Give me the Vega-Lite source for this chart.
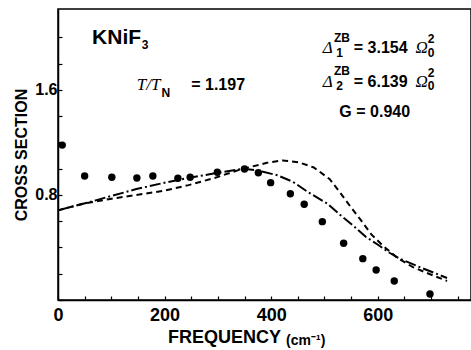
{
  "$schema": "https://vega.github.io/schema/vega-lite/v6.json",
  "width": 413,
  "height": 291,
  "autosize": {"type": "none"},
  "padding": {"left": 58, "top": 9, "right": 0, "bottom": 50},
  "background": "white",
  "config": {
    "view": {"stroke": "black", "strokeWidth": 1.5},
    "axis": {
      "grid": false,
      "domainColor": "black",
      "domainWidth": 1.5,
      "tickColor": "black",
      "tickWidth": 1.2,
      "labelColor": "black",
      "labelFont": "Liberation Sans",
      "labelFontWeight": "bold",
      "titleColor": "black",
      "titleFont": "Liberation Sans",
      "titleFontWeight": "bold"
    }
  },
  "datasets": {
    "stars": [
      {"freq": 8, "value": 1.18},
      {"freq": 50, "value": 0.945},
      {"freq": 101, "value": 0.935},
      {"freq": 148, "value": 0.93},
      {"freq": 178, "value": 0.945},
      {"freq": 225, "value": 0.927},
      {"freq": 248, "value": 0.935},
      {"freq": 299, "value": 0.973},
      {"freq": 350, "value": 0.998},
      {"freq": 376, "value": 0.97},
      {"freq": 399, "value": 0.894},
      {"freq": 436, "value": 0.81},
      {"freq": 462, "value": 0.729},
      {"freq": 496, "value": 0.597},
      {"freq": 536, "value": 0.432},
      {"freq": 572, "value": 0.315},
      {"freq": 597, "value": 0.229},
      {"freq": 631, "value": 0.145},
      {"freq": 698, "value": 0.046}
    ],
    "curves": [
      {"series": "dashed", "freq": 0, "value": 0.683},
      {"series": "dashed", "freq": 49, "value": 0.735},
      {"series": "dashed", "freq": 98, "value": 0.77},
      {"series": "dashed", "freq": 147, "value": 0.8},
      {"series": "dashed", "freq": 196, "value": 0.83},
      {"series": "dashed", "freq": 245, "value": 0.875},
      {"series": "dashed", "freq": 294, "value": 0.93},
      {"series": "dashed", "freq": 343, "value": 0.995},
      {"series": "dashed", "freq": 392, "value": 1.045},
      {"series": "dashed", "freq": 421, "value": 1.063},
      {"series": "dashed", "freq": 451, "value": 1.05},
      {"series": "dashed", "freq": 480, "value": 1.01},
      {"series": "dashed", "freq": 510, "value": 0.92},
      {"series": "dashed", "freq": 529, "value": 0.82},
      {"series": "dashed", "freq": 549, "value": 0.71},
      {"series": "dashed", "freq": 568, "value": 0.61},
      {"series": "dashed", "freq": 588, "value": 0.5},
      {"series": "dashed", "freq": 608, "value": 0.42},
      {"series": "dashed", "freq": 637, "value": 0.32},
      {"series": "dashed", "freq": 666, "value": 0.25},
      {"series": "dashed", "freq": 696, "value": 0.2},
      {"series": "dashed", "freq": 730, "value": 0.145},
      {"series": "dashdot", "freq": 0, "value": 0.683},
      {"series": "dashdot", "freq": 49, "value": 0.735},
      {"series": "dashdot", "freq": 98, "value": 0.79},
      {"series": "dashdot", "freq": 147, "value": 0.845},
      {"series": "dashdot", "freq": 196, "value": 0.89},
      {"series": "dashdot", "freq": 245, "value": 0.93},
      {"series": "dashdot", "freq": 294, "value": 0.965},
      {"series": "dashdot", "freq": 348, "value": 1.0},
      {"series": "dashdot", "freq": 377, "value": 0.985},
      {"series": "dashdot", "freq": 412, "value": 0.95},
      {"series": "dashdot", "freq": 441, "value": 0.9},
      {"series": "dashdot", "freq": 470, "value": 0.82},
      {"series": "dashdot", "freq": 505, "value": 0.735},
      {"series": "dashdot", "freq": 529, "value": 0.65},
      {"series": "dashdot", "freq": 555, "value": 0.563},
      {"series": "dashdot", "freq": 578, "value": 0.48},
      {"series": "dashdot", "freq": 599, "value": 0.425},
      {"series": "dashdot", "freq": 622, "value": 0.36},
      {"series": "dashdot", "freq": 642, "value": 0.313},
      {"series": "dashdot", "freq": 679, "value": 0.25},
      {"series": "dashdot", "freq": 730, "value": 0.168}
    ],
    "bigText": [
      {"freq": 64, "value": 1.95, "label": "KNiF"}
    ],
    "midText": [
      {"freq": 250, "value": 1.6, "label": "= 1.197"},
      {"freq": 555, "value": 1.882, "label": "= 3.154"},
      {"freq": 555, "value": 1.623, "label": "= 6.139"},
      {"freq": 528, "value": 1.394, "label": "G = 0.940"}
    ],
    "smallText": [
      {"freq": 157, "value": 1.915, "label": "3"},
      {"freq": 194, "value": 1.55, "label": "N"},
      {"freq": 518, "value": 1.966, "label": "ZB"},
      {"freq": 522, "value": 1.851, "label": "1"},
      {"freq": 694, "value": 1.958, "label": "2"},
      {"freq": 694, "value": 1.851, "label": "0"},
      {"freq": 518, "value": 1.714, "label": "ZB"},
      {"freq": 522, "value": 1.6, "label": "2"},
      {"freq": 694, "value": 1.699, "label": "2"},
      {"freq": 694, "value": 1.6, "label": "0"}
    ],
    "serifText": [
      {"freq": 148, "value": 1.6, "label": "T/T"},
      {"freq": 497, "value": 1.882, "label": "Δ"},
      {"freq": 497, "value": 1.623, "label": "Δ"},
      {"freq": 671, "value": 1.882, "label": "Ω"},
      {"freq": 671, "value": 1.623, "label": "Ω"}
    ],
    "unitText": [
      {"freq": 428, "value": -0.343, "label": "(cm⁻¹)"}
    ]
  },
  "encoding": {
    "x": {
      "field": "freq",
      "type": "quantitative",
      "scale": {"domain": [0, 775], "nice": false, "zero": false},
      "axis": {
        "title": "FREQUENCY",
        "titleFontSize": 18,
        "titleX": 166,
        "titleAlign": "center",
        "titlePadding": 4,
        "values": [0, 50, 100, 150, 200, 250, 300, 350, 400, 450, 500, 550, 600, 650, 700, 750],
        "labelExpr": "datum.value % 200 === 0 ? datum.label : ''",
        "labelFontSize": 18,
        "tickSize": -4,
        "labelPadding": 10,
        "labelFlush": false,
        "labelOverlap": false
      }
    },
    "y": {
      "field": "value",
      "type": "quantitative",
      "scale": {"domain": [0, 2.217], "nice": false},
      "axis": {
        "title": "CROSS SECTION",
        "titleFontSize": 16,
        "titlePadding": 5,
        "values": [0, 0.2, 0.4, 0.6, 0.8, 1.0, 1.2, 1.4, 1.6, 1.8, 2.0],
        "labelExpr": "datum.value === 0.8 || datum.value === 1.6 ? format(datum.value, '.1f') : ''",
        "labelFontSize": 16,
        "tickSize": -4,
        "labelPadding": 5,
        "labelOverlap": false
      }
    }
  },
  "layer": [
    {
      "data": {"name": "curves"},
      "mark": {"type": "line", "color": "black", "strokeWidth": 2},
      "encoding": {
        "detail": {"field": "series", "type": "nominal"},
        "strokeDash": {
          "field": "series",
          "type": "nominal",
          "scale": {"domain": ["dashed", "dashdot"], "range": [[6, 4], [11, 3, 2, 3]]},
          "legend": null
        }
      }
    },
    {
      "data": {"name": "stars"},
      "mark": {"type": "point", "shape": "circle", "filled": true, "color": "black", "size": 55, "opacity": 1}
    },
    {
      "data": {"name": "bigText"},
      "mark": {"type": "text", "align": "left", "baseline": "alphabetic", "font": "Liberation Sans", "fontWeight": "bold", "fontSize": 21, "color": "black"},
      "encoding": {"text": {"field": "label"}}
    },
    {
      "data": {"name": "midText"},
      "mark": {"type": "text", "align": "left", "baseline": "alphabetic", "font": "Liberation Sans", "fontWeight": "bold", "fontSize": 16, "color": "black"},
      "encoding": {"text": {"field": "label"}}
    },
    {
      "data": {"name": "smallText"},
      "mark": {"type": "text", "align": "left", "baseline": "alphabetic", "font": "Liberation Sans", "fontWeight": "bold", "fontSize": 12, "color": "black"},
      "encoding": {"text": {"field": "label"}}
    },
    {
      "data": {"name": "serifText"},
      "mark": {"type": "text", "align": "left", "baseline": "alphabetic", "font": "Liberation Serif", "fontStyle": "italic", "fontSize": 17, "color": "black"},
      "encoding": {"text": {"field": "label"}}
    },
    {
      "data": {"name": "unitText"},
      "mark": {"type": "text", "align": "left", "baseline": "alphabetic", "font": "Liberation Sans", "fontWeight": "bold", "fontSize": 14, "color": "black", "clip": false},
      "encoding": {"text": {"field": "label"}}
    }
  ]
}
